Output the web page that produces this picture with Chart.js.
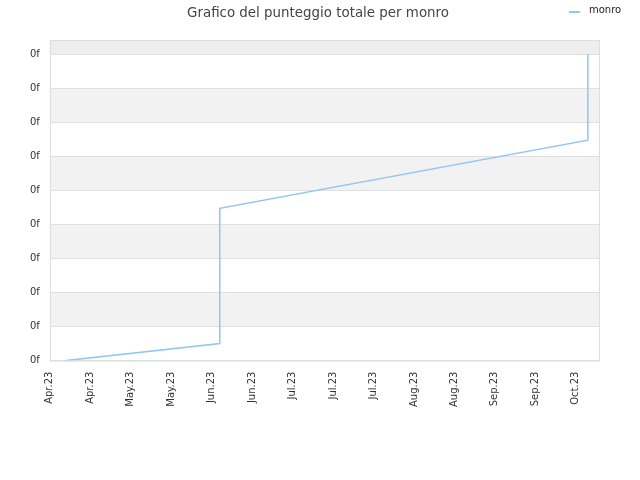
<!DOCTYPE html>
<html><head><meta charset="utf-8">
<script src="https://cdn.jsdelivr.net/npm/chart.js@4/dist/chart.umd.min.js"></script>
<style>html,body{margin:0;padding:0;background:#fff}#w{width:640px;height:480px;position:relative}</style>
</head><body><div id="w"><canvas id="c" width="640" height="480"></canvas></div>
<script>
const titleText = "Grafico del punteggio totale per monro";
const seriesName = "monro";
const xTickLabels = ["Apr.23","Apr.23","May.23","May.23","Jun.23","Jun.23","Jul.23","Jul.23","Jul.23","Aug.23","Aug.23","Sep.23","Sep.23","Oct.23"];
const xValues = [0.4, 4.2, 4.2, 13.3, 13.3];
const yValues = [0, 0.5, 4.47, 6.47, 9];
const yTickCount = 10;
const yTickLabel = "0f";

const FONT = "'DejaVu Sans', sans-serif";
const LINE_COLOR = '#92c5f2';
const bandsPlugin = {
  id: 'bands',
  afterLayout(chart) {
    if (chart.titleBlock) {
      chart.titleBlock.left = 36;
      chart.titleBlock.right = 600;
    }
  },
  beforeDraw(chart) {
    const {ctx, chartArea: a, scales: {y}} = chart;
    ctx.save();
    ctx.fillStyle = '#fff';
    ctx.fillRect(a.left, a.top, a.right - a.left, a.bottom - a.top);
    for (let i = 0; i < yTickCount; i++) {
      const top = i === yTickCount - 1 ? a.top : y.getPixelForValue(i + 1);
      const bot = y.getPixelForValue(i);
      if (i % 2 === 1) {
        ctx.fillStyle = i === yTickCount - 1 ? '#eeeeee' : '#f2f2f2';
        ctx.fillRect(a.left, top, a.right - a.left, bot - top);
      }
    }
    ctx.restore();
  },
  afterDatasetsDraw(chart) {
    const {ctx, chartArea: a} = chart;
    ctx.save();
    ctx.strokeStyle = '#dddddd';
    ctx.lineWidth = 1;
    ctx.strokeRect(a.left + 0.5, a.top + 0.5, a.right - a.left - 1, a.bottom - a.top);
    // legend
    const ds = chart.data.datasets[0];
    ctx.strokeStyle = ds.borderColor;
    ctx.lineWidth = 2;
    ctx.beginPath();
    ctx.moveTo(569, 12);
    ctx.lineTo(580, 12);
    ctx.stroke();
    ctx.fillStyle = '#222';
    ctx.font = "10px " + FONT;
    ctx.textBaseline = 'middle';
    ctx.textAlign = 'left';
    ctx.fillText(ds.label, 589, 10);
    ctx.restore();
  }
};

new Chart(document.getElementById('c'), {
  type: 'line',
  data: {
    datasets: [{
      label: seriesName,
      data: xValues.map((x, i) => ({x, y: yValues[i]})),
      borderColor: LINE_COLOR,
      backgroundColor: LINE_COLOR,
      borderWidth: 1.5,
      pointRadius: 0,
      tension: 0,
      fill: false
    }]
  },
  options: {
    responsive: false,
    animation: false,
    layout: {padding: {left: 20, right: 40, top: 0, bottom: 70}},
    plugins: {
      title: {display: true, text: titleText, color: '#444', font: {family: FONT, size: 13.4, weight: 'normal'}, padding: {top: 5, bottom: 19}},
      legend: {display: false},
      tooltip: {enabled: false}
    },
    scales: {
      x: {
        type: 'linear', min: 0, max: 13.6,
        grid: {display: false},
        border: {display: false},
        ticks: {
          stepSize: 1, includeBounds: false, autoSkip: false,
          maxRotation: 90, minRotation: 90,
          color: '#333', font: {family: FONT, size: 10},
          callback: (v) => xTickLabels[v] !== undefined ? xTickLabels[v] : ''
        }
      },
      y: {
        type: 'linear', min: 0, max: 9.41,
        grid: {color: '#e0e0e0', drawTicks: false},
        border: {display: false},
        ticks: {
          stepSize: 1, includeBounds: false, padding: 10,
          color: '#333', font: {family: FONT, size: 10},
          callback: () => yTickLabel
        }
      }
    }
  },
  plugins: [bandsPlugin]
});
</script></body></html>
